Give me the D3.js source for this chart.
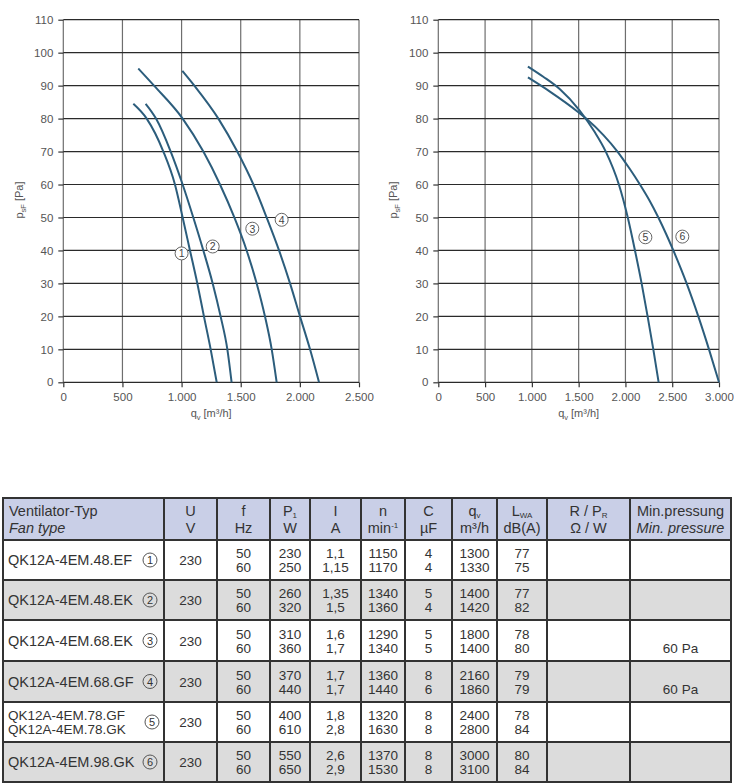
<!DOCTYPE html>
<html>
<head>
<meta charset="utf-8">
<script src="https://cdn.jsdelivr.net/npm/d3@7"></script>
<style>
  body { margin: 0; background: #fff; }
  svg { display: block; font-family: "Liberation Sans", Arial, sans-serif; }
  .tick text { fill: #555; font-size: 11.5px; }
  .tick line { stroke: #333; }
</style>
</head>
<body>
<svg id="chart" width="734" height="784"></svg>
<script>
// fan curves, [q_v m3/h, p_sF Pa]
const curve1 = [[592,84.5],[705,80],[846,70],[944,60],[1009,50],[1071,40],[1133,30],[1189,20],[1246,10],[1297,0]];
const curve2 = [[696,84.5],[784,80],[908,70],[1009,60],[1099,50],[1184,40],[1263,30],[1330,20],[1387,10],[1423,0]];
const curve3 = [[634,95.2],[767,90],[1009,80],[1184,70],[1325,60],[1446,50],[1550,40],[1635,30],[1705,20],[1762,10],[1804,0]];
const curve4 = [[1006,94.5],[1108,90],[1311,80],[1471,70],[1607,60],[1719,50],[1824,40],[1917,30],[2001,20],[2086,10],[2162,0]];
const curve5 = [[958,95.8],[1122,92.7],[1300,88.9],[1507,82.6],[1670,76],[1790,70],[1930,60],[2025,50],[2102,40],[2173,30],[2237,20],[2298,10],[2355,0]];
const curve6 = [[958,92.5],[1193,88.2],[1490,82.1],[1580,80],[1765,75],[1915,70],[2040,65],[2155,60],[2260,55],[2352,50],[2435,45],[2512,40],[2654,30],[2779,20],[2893,10],[3000,0]];

// circled curve numbers, [id, q, p]
const leftLabels = [["1",1000,39.1],["2",1263,41.2],["3",1598,46.6],["4",1846,49.3]];
const rightLabels = [["5",2213,44],["6",2608,44.2]];

const yTicks = d3.range(0, 111, 10);
const xTicksLeft = [0, 500, 1000, 1500, 2000, 2500];
const xTicksRight = [0, 500, 1000, 1500, 2000, 2500, 3000];

// table
const fanTypes = [["QK12A-4EM.48.EF"],["QK12A-4EM.48.EK"],["QK12A-4EM.68.EK"],["QK12A-4EM.68.GF"],["QK12A-4EM.78.GF","QK12A-4EM.78.GK"],["QK12A-4EM.98.GK"]];
const fanIds = ["1","2","3","4","5","6"];
const voltage = ["230","230","230","230","230","230"];
const freq = [["50","60"],["50","60"],["50","60"],["50","60"],["50","60"],["50","60"]];
const power = [["230","250"],["260","320"],["310","360"],["370","440"],["400","610"],["550","650"]];
const current = [["1,1","1,15"],["1,35","1,5"],["1,6","1,7"],["1,7","1,7"],["1,8","2,8"],["2,6","2,9"]];
const speed = [["1150","1170"],["1340","1360"],["1290","1340"],["1360","1440"],["1320","1630"],["1370","1530"]];
const capacitor = [["4","4"],["5","4"],["5","5"],["8","6"],["8","8"],["8","8"]];
const airflow = [["1300","1330"],["1400","1420"],["1800","1400"],["2160","1860"],["2400","2800"],["3000","3100"]];
const noise = [["77","75"],["77","82"],["78","80"],["79","79"],["78","84"],["80","84"]];
const resistor = [["",""],["",""],["",""],["",""],["",""],["",""]];
const minPressure = [["",""],["",""],["","60 Pa"],["","60 Pa"],["",""],["",""]];

const svg = d3.select('#chart');
const curveColor = '#2c5d7c';
const fmt = d3.formatLocale({ decimal: ',', thousands: '.', grouping: [3], currency: ['', ''] }).format(',');

function drawChart(opts) {
  const x = d3.scaleLinear().domain([0, opts.xMax]).range([opts.left, opts.right]);
  const y = d3.scaleLinear().domain([0, 110]).range([382.3, 19.7]);
  const g = svg.append('g');

  // grid
  g.selectAll('.vgrid').data(opts.xTicks).enter().append('line')
    .attr('x1', d => x(d)).attr('x2', d => x(d))
    .attr('y1', y(0)).attr('y2', y(110))
    .attr('stroke', '#6e6e6e').attr('stroke-width', 1.2);
  g.selectAll('.hgrid').data(yTicks).enter().append('line')
    .attr('x1', x(0)).attr('x2', x(opts.xMax))
    .attr('y1', d => y(d)).attr('y2', d => y(d))
    .attr('stroke', '#2a2a2a').attr('stroke-width', 1.2);

  // axes (ticks + labels only)
  const ya = g.append('g').attr('transform', `translate(${x(0)},0)`)
    .call(d3.axisLeft(y).tickValues(yTicks).tickSize(5).tickPadding(5));
  ya.select('.domain').remove();
  const xa = g.append('g').attr('transform', `translate(0,${y(0)})`)
    .call(d3.axisBottom(x).tickValues(opts.xTicks).tickSize(5).tickPadding(6).tickFormat(fmt));
  xa.select('.domain').remove();
  g.selectAll('.tick line').attr('stroke-width', 1.2);

  // axis titles
  const xt = g.append('text').attr('x', (x(0) + x(opts.xMax)) / 2).attr('y', 417)
    .attr('text-anchor', 'middle').attr('fill', '#555').attr('font-size', 11);
  xt.append('tspan').text('q');
  xt.append('tspan').text('v').attr('font-size', 7.5).attr('dy', 3);
  xt.append('tspan').text(' [m³/h]').attr('dy', -3);

  const yt = g.append('text').attr('transform', `translate(${opts.yTitleX},200) rotate(-90)`)
    .attr('text-anchor', 'middle').attr('fill', '#555').attr('font-size', 11);
  yt.append('tspan').text('p');
  yt.append('tspan').text('sF').attr('font-size', 7.5).attr('dy', 3);
  yt.append('tspan').text(' [Pa]').attr('dy', -3);

  // curves
  const line = d3.line().x(d => x(d[0])).y(d => y(d[1])).curve(d3.curveMonotoneX);
  g.selectAll('.curve').data(opts.curves).enter().append('path')
    .attr('d', line).attr('fill', 'none')
    .attr('stroke', curveColor).attr('stroke-width', 2);

  // circled labels
  const lab = g.selectAll('.lab').data(opts.labels).enter().append('g')
    .attr('transform', d => `translate(${x(d[1])},${y(d[2])})`);
  lab.append('circle').attr('r', 6.5).attr('fill', '#fff').attr('stroke', '#666').attr('stroke-width', 1);
  lab.append('text').text(d => d[0]).attr('text-anchor', 'middle').attr('dy', 3.8)
    .attr('font-size', 10.5).attr('fill', '#444');
}

drawChart({ left: 63.3, right: 359, xMax: 2500, xTicks: xTicksLeft, curves: [curve1, curve2, curve3, curve4], labels: leftLabels, yTitleX: 23 });
drawChart({ left: 438.3, right: 719, xMax: 3000, xTicks: xTicksRight, curves: [curve5, curve6], labels: rightLabels, yTitleX: 397 });

// ---------- table ----------
const colEdges = [3, 164, 217, 270, 310, 361, 405, 452, 497, 547, 630, 731];
const rowEdges = [498, 540, 580, 620, 661, 702, 742, 782];
const t = svg.append('g').attr('font-size', 13.5).attr('fill', '#333');

// backgrounds
t.append('rect').attr('x', colEdges[0]).attr('y', rowEdges[0])
  .attr('width', colEdges[11] - colEdges[0]).attr('height', rowEdges[1] - rowEdges[0]).attr('fill', '#c9cfe7');
fanTypes.forEach((d, i) => {
  t.append('rect').attr('x', colEdges[0]).attr('y', rowEdges[i + 1])
    .attr('width', colEdges[11] - colEdges[0]).attr('height', rowEdges[i + 2] - rowEdges[i + 1])
    .attr('fill', i % 2 ? '#dcdcdc' : '#fff');
});

// header
function headerCell(ci, parts1, parts2, anchor) {
  const cx = anchor === 'start' ? colEdges[ci] + 6 : (colEdges[ci] + colEdges[ci + 1]) / 2;
  [[parts1, 516], [parts2, 533]].forEach(([parts, yy]) => {
    const tx = t.append('text').attr('x', cx).attr('y', yy).attr('text-anchor', anchor || 'middle')
      .attr('font-size', 14.5);
    parts.forEach(p => {
      const s = tx.append('tspan').text(p.t);
      if (p.sub) s.attr('font-size', 8).attr('dy', 2);
      if (p.sup) s.attr('font-size', 8).attr('dy', -5);
      if (p.it) s.attr('font-style', 'italic');
    });
  });
}
headerCell(0, [{ t: 'Ventilator-Typ' }], [{ t: 'Fan type', it: true }], 'start');
headerCell(1, [{ t: 'U' }], [{ t: 'V' }]);
headerCell(2, [{ t: 'f' }], [{ t: 'Hz' }]);
headerCell(3, [{ t: 'P' }, { t: '1', sub: true }], [{ t: 'W' }]);
headerCell(4, [{ t: 'I' }], [{ t: 'A' }]);
headerCell(5, [{ t: 'n' }], [{ t: 'min' }, { t: '-1', sup: true }]);
headerCell(6, [{ t: 'C' }], [{ t: 'µF' }]);
headerCell(7, [{ t: 'q' }, { t: 'v', sub: true }], [{ t: 'm³/h' }]);
headerCell(8, [{ t: 'L' }, { t: 'WA', sub: true }], [{ t: 'dB(A)' }]);
headerCell(9, [{ t: 'R / P' }, { t: 'R', sub: true }], [{ t: 'Ω  / W' }]);
headerCell(10, [{ t: 'Min.pressung' }], [{ t: 'Min. pressure', it: true }]);

// body
const bodyCols = [voltage, freq, power, current, speed, capacitor, airflow, noise, resistor, minPressure];
fanTypes.forEach((names, i) => {
  const y0 = rowEdges[i + 1], y1 = rowEdges[i + 2], cy = (y0 + y1) / 2;
  names.forEach((n, k) => {
    t.append('text').attr('x', colEdges[0] + 5)
      .attr('font-size', names.length === 1 ? 14.5 : 13.5)
      .attr('y', cy + 5 + (names.length === 1 ? 0 : (k === 0 ? -7 : 7))).text(n);
  });
  const c = t.append('g').attr('transform', `translate(${names.length === 1 ? 150 : 152},${cy})`);
  c.append('circle').attr('r', 7).attr('fill', 'none').attr('stroke', '#555').attr('stroke-width', 1);
  c.append('text').attr('text-anchor', 'middle').attr('dy', 4).attr('font-size', 11).text(fanIds[i]);

  bodyCols.forEach((col, j) => {
    const cx = (colEdges[j + 1] + colEdges[j + 2]) / 2;
    const v = col[i];
    if (Array.isArray(v)) {
      v.forEach((s, k) => t.append('text').attr('x', cx).attr('y', cy + 5 + (k === 0 ? -7 : 7))
        .attr('text-anchor', 'middle').text(s));
    } else {
      t.append('text').attr('x', cx).attr('y', cy + 5).attr('text-anchor', 'middle').text(v);
    }
  });
});

// borders
colEdges.forEach(cx => t.append('line').attr('x1', cx).attr('x2', cx)
  .attr('y1', rowEdges[0]).attr('y2', rowEdges[rowEdges.length - 1])
  .attr('stroke', '#333').attr('stroke-width', 2));
rowEdges.forEach(ry => t.append('line').attr('x1', colEdges[0] - 1).attr('x2', colEdges[11] + 1)
  .attr('y1', ry).attr('y2', ry).attr('stroke', '#333').attr('stroke-width', 2));
</script>
</body>
</html>
